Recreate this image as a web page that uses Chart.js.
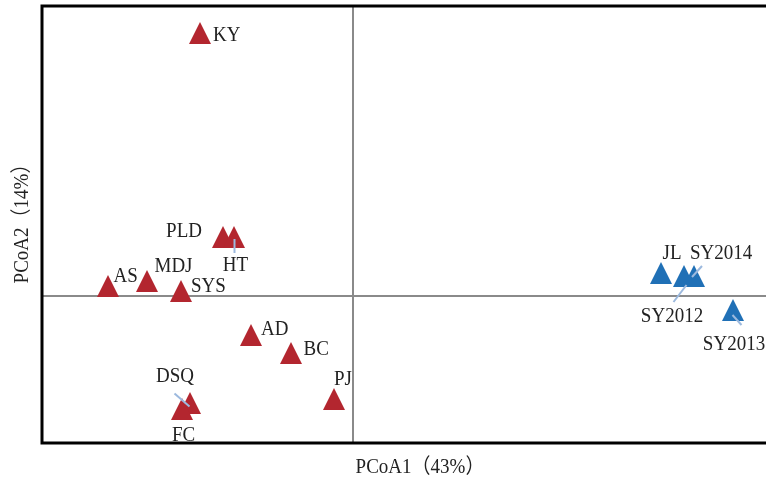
<!DOCTYPE html>
<html>
<head>
<meta charset="utf-8">
<script src="https://cdn.jsdelivr.net/npm/chart.js@4.4.1/dist/chart.umd.min.js"></script>
<style>
  html, body { margin: 0; padding: 0; background: #fff; overflow: hidden; }
  #wrap { width: 766px; height: 482px; }
</style>
</head>
<body>
<div id="wrap"><canvas id="c" width="766" height="482"></canvas></div>
<script>
// PCoA site scores (axis 1, axis 2)
const siteNames  = ['KY', 'PLD', 'HT', 'AS', 'MDJ', 'SYS', 'AD', 'BC', 'PJ', 'DSQ', 'FC'];
const sitePC1    = [-0.153, -0.130, -0.119, -0.245, -0.206, -0.172, -0.102, -0.062, -0.019, -0.163, -0.171];
const sitePC2    = [ 0.263,  0.059,  0.059,  0.010,  0.015,  0.005, -0.039, -0.057, -0.103, -0.107, -0.113];

const yearNames  = ['JL', 'SY2012', 'SY2014', 'SY2013'];
const yearPC1    = [0.308, 0.331, 0.341, 0.380];
const yearPC2    = [0.023, 0.020, 0.020, -0.014];

const xTitle = 'PCoA1（43%）';
const yTitle = 'PCoA2（14%）';

// label placement: offset of the text from its marker, optional leader segment
const labelPlacement = {
  KY:     { dx: 13,   dy: 1,    align: 'left' },
  PLD:    { dx: -21,  dy: -7,   align: 'right' },
  HT:     { dx: 1.5,  dy: 27,   align: 'center', leader: [0.5, 2, 0.5, 16] },
  AS:     { dx: 5.5,  dy: -11,  align: 'left' },
  MDJ:    { dx: 7.5,  dy: -15.5, align: 'left' },
  SYS:    { dx: 10,   dy: -6,   align: 'left' },
  AD:     { dx: 10,   dy: -6.5, align: 'left' },
  BC:     { dx: 12.5, dy: -4.5, align: 'left' },
  PJ:     { dx: 9,    dy: -21,  align: 'center' },
  DSQ:    { dx: -15,  dy: -27.5, align: 'center', leader: [-15.5, -9.5, -0.5, 3.5] },
  FC:     { dx: 1.5,  dy: 25,   align: 'center' },
  JL:     { dx: 11,   dy: -20.5, align: 'center' },
  SY2012: { dx: -12,  dy: 39,   align: 'center', leader: [-10.5, 26, 2.5, 9] },
  SY2014: { dx: -4,   dy: -24,  align: 'left',   leader: [8, -10, -2, 1] },
  SY2013: { dx: 1,    dy: 33,   align: 'center', leader: [-0.5, 5, 8.5, 15] }
};

const RED = '#b3262f';
const BLUE = '#2070b6';
const LEADER = '#9cb9de';
const TEXT = '#222222';
const SERIF = '"Liberation Serif", "DejaVu Serif", "Noto Sans CJK SC", serif';

// upright triangle marker
function triangleMarker(color, w, h) {
  const cv = document.createElement('canvas');
  cv.width = w; cv.height = h;
  const g = cv.getContext('2d');
  g.fillStyle = color;
  g.beginPath();
  g.moveTo(w / 2, 0);
  g.lineTo(w, h);
  g.lineTo(0, h);
  g.closePath();
  g.fill();
  return cv;
}

const toPoints = (xs, ys) => xs.map((x, i) => ({ x: x, y: ys[i] }));

// draws a string with a slight vertical stretch, centred on cy
function stretchedText(ctx, str, x, cy, align, size) {
  const sy = 1.1;
  ctx.save();
  ctx.font = size + 'px ' + SERIF;
  ctx.textAlign = align;
  ctx.textBaseline = 'alphabetic';
  const capH = size * 0.66 * sy;
  ctx.translate(x, cy + capH / 2);
  ctx.scale(1, sy);
  ctx.fillText(str, 0, 0);
  ctx.restore();
}

const framePlugin = {
  id: 'frame',
  beforeDatasetsDraw(chart) {
    const { ctx, chartArea: a, scales } = chart;
    const x0 = scales.x.getPixelForValue(0);
    const y0 = scales.y.getPixelForValue(0);
    ctx.save();
    ctx.strokeStyle = '#8a8a8a';
    ctx.lineWidth = 2;
    ctx.beginPath();
    ctx.moveTo(x0, a.top); ctx.lineTo(x0, a.bottom);
    ctx.moveTo(a.left, y0); ctx.lineTo(a.right, y0);
    ctx.stroke();
    ctx.restore();
  },
  afterDatasetsDraw(chart) {
    const { ctx, chartArea: a } = chart;
    ctx.save();
    // leaders and labels
    chart.data.datasets.forEach((ds, di) => {
      const meta = chart.getDatasetMeta(di);
      meta.data.forEach((pt, i) => {
        const name = ds.names[i];
        const p = labelPlacement[name];
        if (!p) return;
        if (p.leader) {
          const l = p.leader;
          ctx.strokeStyle = LEADER;
          ctx.lineWidth = 2;
          ctx.beginPath();
          ctx.moveTo(pt.x + l[0], pt.y + l[1]);
          ctx.lineTo(pt.x + l[2], pt.y + l[3]);
          ctx.stroke();
        }
        ctx.fillStyle = TEXT;
        stretchedText(ctx, name, pt.x + p.dx, pt.y + p.dy, p.align, 19);
      });
    });
    // frame: left, top, bottom
    ctx.strokeStyle = '#000';
    ctx.lineWidth = 3;
    ctx.beginPath();
    ctx.moveTo(a.right, a.top);
    ctx.lineTo(a.left, a.top);
    ctx.lineTo(a.left, a.bottom);
    ctx.lineTo(a.right, a.bottom);
    ctx.stroke();
    // axis titles
    ctx.fillStyle = TEXT;
    stretchedText(ctx, xTitle, 420, 466, 'center', 19);
    ctx.save();
    ctx.translate(21, 219);
    ctx.rotate(-Math.PI / 2);
    stretchedText(ctx, yTitle, 0, 0, 'center', 19);
    ctx.restore();
    ctx.restore();
  }
};

new Chart(document.getElementById('c'), {
  type: 'scatter',
  data: {
    datasets: [
      {
        label: 'sites',
        names: siteNames,
        data: toPoints(sitePC1, sitePC2),
        pointStyle: triangleMarker(RED, 22, 22),
        backgroundColor: RED
      },
      {
        label: 'years',
        names: yearNames,
        data: toPoints(yearPC1, yearPC2),
        pointStyle: triangleMarker(BLUE, 22, 22),
        backgroundColor: BLUE
      }
    ]
  },
  options: {
    responsive: false,
    animation: false,
    devicePixelRatio: 1,
    events: [],
    layout: { autoPadding: false, padding: { left: 42, top: 6, right: 0, bottom: 39 } },
    plugins: { legend: { display: false }, tooltip: { enabled: false } },
    scales: {
      x: { type: 'linear', min: -0.311, max: 0.413, display: false },
      y: { type: 'linear', min: -0.147, max: 0.290, display: false }
    }
  },
  plugins: [framePlugin]
});
</script>
</body>
</html>
